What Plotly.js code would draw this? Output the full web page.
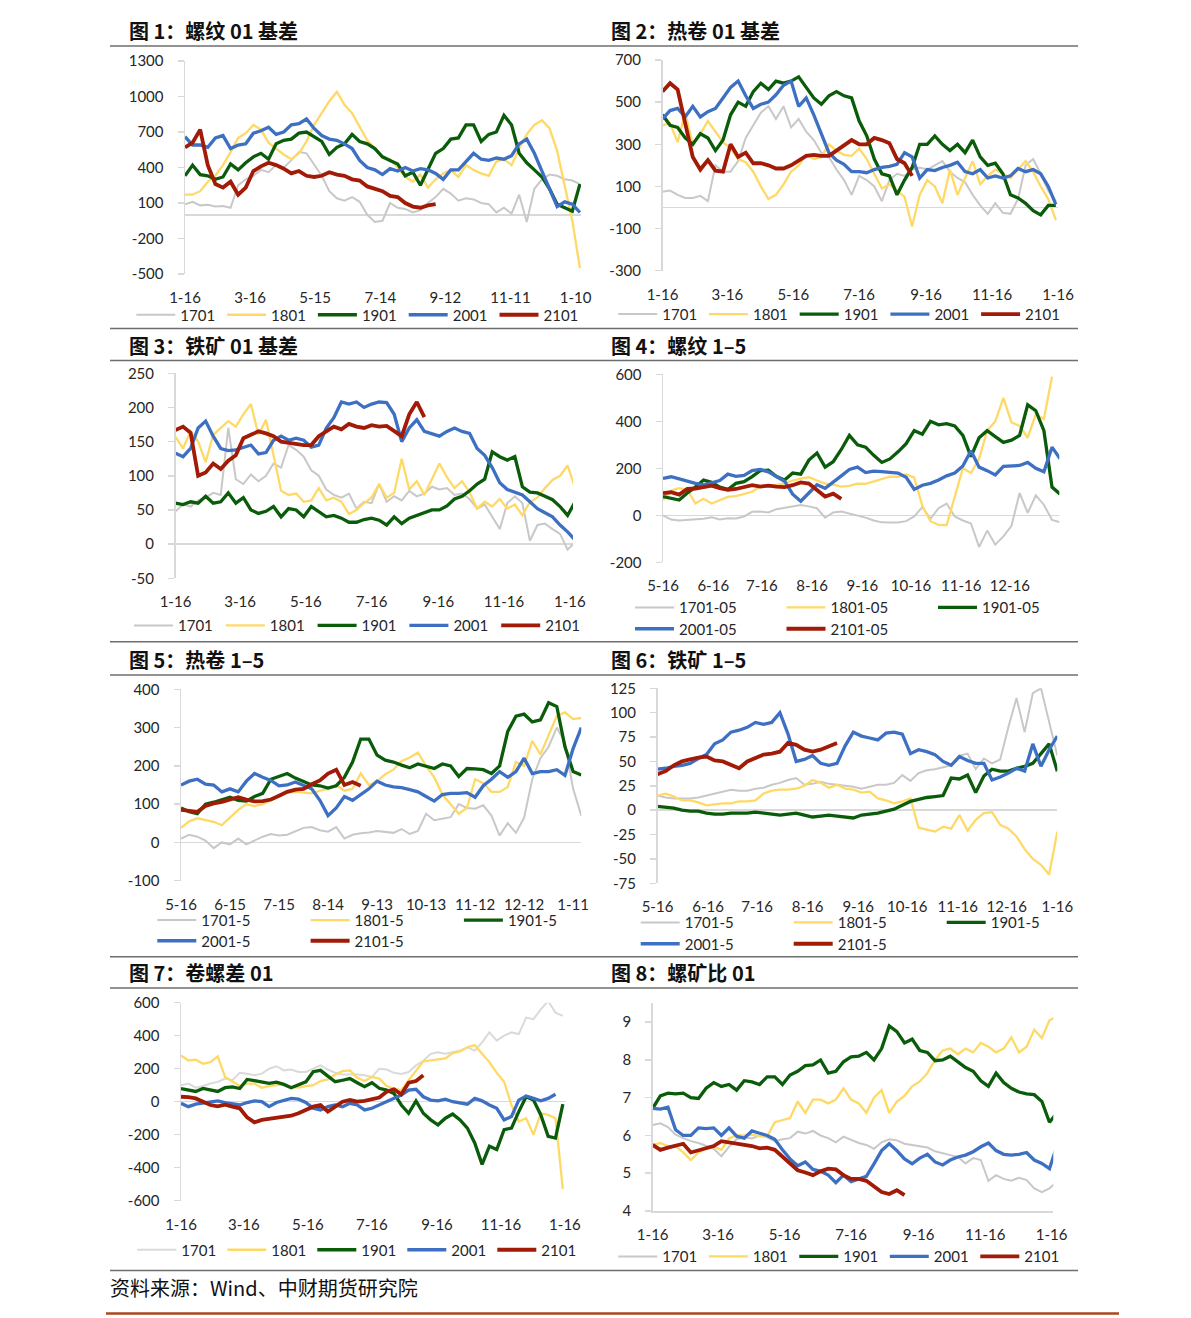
<!DOCTYPE html>
<html>
<head>
<meta charset="utf-8">
<script src="https://cdn.plot.ly/plotly-3.0.1.min.js"></script>
<style>
html,body{margin:0;padding:0;background:#fff;}
#chart{width:1191px;height:1318px;}
</style>
</head>
<body>
<div id="chart"></div>
<script>
// ---------------- DATA ----------------
const seriesNames = ['1701','1801','1901','2001','2101'];
const seriesNames05 = ['1701-05','1801-05','1901-05','2001-05','2101-05'];
const seriesNames5 = ['1701-5','1801-5','1901-5','2001-5','2101-5'];

const ticksDay60 = ['2020-01-16','2020-03-16','2020-05-15','2020-07-14','2020-09-12','2020-11-11','2021-01-10'];
const labelsDay60 = ['1-16','3-16','5-15','7-14','9-12','11-11','1-10'];
const ticksBiMonth = ['2020-01-16','2020-03-16','2020-05-16','2020-07-16','2020-09-16','2020-11-16','2021-01-16'];
const labelsBiMonth = ['1-16','3-16','5-16','7-16','9-16','11-16','1-16'];
const ticksMonth = ['2020-05-16','2020-06-16','2020-07-16','2020-08-16','2020-09-16','2020-10-16','2020-11-16','2020-12-16','2021-01-16'];
const labelsMonth = ['5-16','6-16','7-16','8-16','9-16','10-16','11-16','12-16','1-16'];
const ticksDay30 = ['2020-05-16','2020-06-15','2020-07-15','2020-08-14','2020-09-13','2020-10-13','2020-11-12','2020-12-12','2021-01-11'];
const labelsDay30 = ['5-16','6-15','7-15','8-14','9-13','10-13','11-12','12-12','1-11'];

// 图1 螺纹01基差 (weekly from 1-16)
const rebarBasis1701 = [90,110,80,85,70,75,60,250,300,330,380,360,420,400,460,530,520,430,330,200,140,120,150,110,0,-60,-50,100,60,50,20,40,100,150,220,180,120,140,130,100,90,20,60,10,170,-60,220,300,340,330,300,290,260];
const rebarBasis1801 = [170,170,200,280,330,420,530,650,690,760,720,610,560,510,470,520,620,760,860,960,1040,930,860,740,630,560,480,470,400,320,280,340,230,300,350,380,320,420,380,350,330,450,470,420,560,680,760,800,730,540,250,-50,-450];
const rebarBasis1901 = [330,420,340,330,300,320,430,380,440,490,520,470,600,630,640,690,700,660,620,510,570,600,680,620,600,560,490,460,430,330,360,250,380,520,560,640,650,760,760,620,680,700,840,760,520,440,380,320,220,90,60,30,260];
const rebarBasis2001 = [660,590,590,570,650,670,560,590,600,690,710,740,680,700,760,770,810,730,670,640,630,600,560,460,400,380,340,390,370,400,370,390,380,350,300,380,380,450,520,470,460,480,470,500,600,640,520,370,220,70,110,90,20];
const rebarBasis2101 = [570,610,720,420,260,230,280,170,230,370,410,440,420,390,350,370,330,320,330,360,340,330,300,290,240,220,200,160,150,100,70,60,80,90];

// 图2 热卷01基差 (weekly from 1-16)
const hrcBasis1701 = [75,80,60,45,45,55,30,200,170,170,220,330,390,450,480,420,480,380,420,360,320,260,240,180,130,60,150,130,100,30,130,160,150,180,190,180,200,220,170,140,120,60,10,-30,20,-25,-30,40,200,230,160,80,30];
const hrcBasis1801 = [390,400,310,450,300,350,410,360,310,280,230,215,170,100,40,60,110,170,200,250,230,240,300,270,250,245,280,230,160,90,110,80,50,-90,60,130,100,20,180,60,140,220,110,150,180,160,140,180,220,170,100,40,-60];
const hrcBasis1901 = [440,390,380,330,300,350,330,270,320,440,500,480,550,590,560,600,590,600,620,570,520,490,530,550,530,520,410,340,230,160,150,60,130,190,300,300,340,300,270,300,260,320,240,200,210,160,60,45,20,-15,-35,10,10];
const hrcBasis2001 = [420,460,470,430,480,430,455,470,520,570,600,530,470,490,500,535,580,600,480,520,440,345,260,225,205,170,170,165,180,190,195,205,260,240,140,180,175,190,200,215,170,160,180,140,150,140,150,185,170,180,160,100,15];
const hrcBasis2101 = [550,590,560,400,240,180,225,175,170,300,240,260,210,210,200,185,185,200,225,245,250,245,245,270,290,320,300,300,330,320,305,230,210,150];

// 图3 铁矿01基差 (weekly from 1-16)
const oreBasis1701 = [48,58,55,64,68,75,72,170,95,88,102,92,100,118,112,145,138,128,108,100,80,72,68,74,52,62,60,88,62,70,64,78,70,74,84,80,82,72,74,66,52,58,40,22,60,70,60,5,28,30,22,15,-8,3];
const oreBasis1801 = [157,140,165,150,120,160,170,180,172,190,205,160,182,130,78,72,74,62,64,82,64,68,62,44,50,60,68,88,68,75,125,80,92,72,95,118,98,82,92,76,52,62,55,66,52,58,42,62,68,82,94,100,115,82];
const oreBasis1901 = [60,58,62,60,70,60,62,75,60,68,50,45,48,55,40,52,50,40,55,47,40,42,38,32,32,36,38,35,28,40,30,38,42,45,50,50,56,66,70,78,88,95,135,128,123,128,84,76,75,70,65,55,42,62];
const oreBasis2001 = [133,128,140,170,180,158,140,137,138,142,145,132,134,152,158,152,155,152,142,145,170,185,208,205,208,200,205,208,207,190,150,170,182,165,162,158,165,170,165,162,140,130,112,90,80,76,72,62,52,46,40,28,18,6];
const oreBasis2101 = [167,172,163,100,105,118,110,122,130,155,160,165,162,158,150,148,147,145,145,158,165,172,168,176,172,170,174,172,173,166,158,190,208,186];

// 图4 螺纹1-5 (every 5 days from 5-16)
const rebarSpread1701 = [0,-18,-22,-20,-20,-15,-8,-18,-13,-14,-5,15,16,12,26,33,37,44,38,30,-10,12,16,8,0,-10,-22,-30,-31,-31,-25,-5,35,-15,30,50,-5,-22,-35,-135,-65,-125,-90,-45,95,10,85,45,-20,-30];
const rebarSpread1801 = [65,105,115,110,50,70,50,65,78,82,90,100,122,124,129,136,148,156,162,148,135,130,122,125,135,134,143,152,164,164,175,160,40,-25,-41,-42,80,200,180,240,360,400,500,395,380,330,430,410,590];
const rebarSpread1901 = [80,72,65,95,120,150,140,120,110,136,143,165,190,192,165,150,180,175,235,265,205,228,280,340,300,290,255,225,240,270,305,360,345,400,385,390,380,340,250,330,360,335,310,320,340,470,445,360,120,90];
const rebarSpread2001 = [157,164,155,145,136,129,138,148,175,166,170,190,195,185,165,145,90,60,95,130,115,140,168,195,205,182,188,186,182,180,162,110,128,136,150,168,180,210,275,205,190,172,208,210,212,225,200,185,290,240];
const rebarSpread2101 = [94,98,88,112,114,120,126,116,108,112,122,128,122,126,122,120,128,140,135,110,80,92,70];

// 图5 热卷1-5 (every 5 days from 5-16)
const hrcSpread1701 = [10,20,15,5,-15,0,-5,10,-5,5,15,22,18,20,28,38,40,32,28,40,10,20,24,26,30,28,25,35,22,30,75,58,62,66,100,90,88,97,70,18,50,25,65,165,220,250,300,260,140,70];
const hrcSpread1801 = [38,55,63,58,54,45,65,85,100,95,100,110,118,130,132,130,128,135,140,150,135,140,180,150,160,178,190,212,222,235,200,170,125,100,75,90,165,155,132,132,145,210,200,265,230,280,330,340,322,325];
const hrcSpread1901 = [90,80,75,100,105,112,118,110,108,120,128,165,172,180,168,158,150,148,142,148,170,210,270,270,228,215,210,202,195,205,200,193,205,200,172,193,192,190,180,200,290,330,335,315,320,365,355,250,185,176];
const hrcSpread2001 = [150,160,165,152,150,132,140,132,160,180,170,162,148,150,158,150,140,110,70,90,120,110,125,140,160,150,145,143,138,132,120,108,125,128,128,130,118,148,165,185,170,185,220,180,185,185,190,175,245,300];
const hrcSpread2101 = [85,82,80,95,102,106,112,118,112,107,108,112,122,132,138,140,152,162,180,190,150,158,148];

// 图6 铁矿1-5 (every 5 days from 5-16)
const oreSpread1701 = [15,13,12,12,12,13,15,17,19,21,20,20,22,23,26,28,31,33,26,27,29,27,26,25,24,22,24,26,26,28,36,30,38,41,42,44,46,56,58,42,53,48,52,85,115,80,120,125,90,56];
const oreSpread1801 = [15,17,14,10,10,8,5,6,7,7,9,9,10,17,20,21,21,22,25,31,28,23,26,22,21,18,19,12,10,7,9,12,-18,-20,-22,-17,-19,-5,-21,-10,-3,-2,-15,-19,-27,-40,-50,-56,-66,-22];
const oreSpread1901 = [4,3,2,0,-1,-1,-3,-4,-4,-3,-3,-3,-2,-3,-4,-5,-4,-3,-5,-7,-6,-5,-6,-7,-8,-5,-4,-3,-1,1,5,9,11,13,14,15,33,32,36,18,35,42,40,40,43,45,48,58,68,40];
const oreSpread2001 = [42,43,45,46,48,53,57,68,72,80,82,85,90,88,90,100,78,50,52,56,48,46,48,66,80,76,74,72,79,80,78,58,62,60,57,50,46,55,51,48,48,31,34,38,43,40,68,45,62,76];
const oreSpread2101 = [37,40,46,50,52,54,55,51,50,46,43,50,54,57,58,60,69,67,62,60,62,65,69];

// 图7 卷螺差01 (weekly from 1-16)
const hrcRebar1701 = [100,110,85,95,110,120,140,130,175,170,160,170,200,215,190,195,180,180,200,220,195,175,165,165,165,160,150,200,195,175,168,180,220,248,290,300,290,300,310,330,310,360,420,370,400,420,410,510,500,560,610,540,520];
const hrcRebar1801 = [280,250,255,230,240,275,150,120,95,110,110,85,95,100,105,90,85,95,100,125,135,165,185,190,145,125,150,140,95,80,70,130,190,245,250,255,262,295,305,330,343,290,240,175,121,-20,-120,-100,-200,-70,-80,-100,-530];
const hrcRebar1901 = [80,72,62,80,70,62,85,90,80,135,128,120,111,118,105,85,100,120,182,190,155,121,130,140,115,91,115,81,70,50,-20,-70,5,-70,-110,-140,-100,-75,-110,-160,-250,-380,-270,-290,-170,-160,-60,30,10,-80,-210,-220,-15];
const hrcRebar2001 = [-10,-30,-15,-10,0,5,-5,-15,-20,-5,5,0,-30,-5,10,20,15,-5,-40,-50,-30,-20,-30,-10,-20,-50,-40,-20,-5,20,40,70,75,30,10,5,15,0,-10,-15,20,5,-20,-40,-110,-90,10,35,20,5,20,45];
const hrcRebar2101 = [30,28,20,0,-20,-28,-18,-30,-40,-95,-125,-110,-105,-100,-95,-85,-70,-50,-30,-20,-60,-30,0,10,0,5,15,25,60,75,45,115,125,160];

// 图8 螺矿比01 (weekly from 1-16)
const rebarOre1701 = [6.28,6.32,6.22,6.02,5.93,5.85,5.8,5.72,5.65,5.45,5.7,5.9,5.95,5.92,6.0,5.95,5.85,5.9,5.93,6.1,6.05,6.12,6.0,5.93,5.82,5.97,5.88,5.8,5.75,5.65,5.82,5.9,5.87,5.78,5.75,5.72,5.68,5.58,5.52,5.48,5.43,5.26,5.4,5.35,4.8,4.95,4.85,4.8,4.88,4.82,4.6,4.5,4.6,4.78];
const rebarOre1801 = [5.75,5.8,5.72,5.72,5.55,5.35,5.55,5.65,5.7,5.62,5.92,6.0,6.0,6.02,5.98,5.97,6.35,6.4,6.46,6.9,6.6,6.95,6.95,6.85,6.95,7.25,6.95,6.85,6.6,7.0,7.2,6.6,6.9,7.05,7.3,7.43,7.65,8.0,8.25,8.3,8.15,8.3,8.2,8.45,8.35,8.2,8.3,8.6,8.2,8.35,8.8,8.58,9.05,9.15];
const rebarOre1901 = [6.72,7.05,7.12,7.1,7.12,7.0,6.98,7.25,7.4,7.3,7.35,7.2,7.45,7.42,7.35,7.55,7.55,7.35,7.6,7.7,7.85,7.87,8.0,7.65,7.7,7.95,8.08,8.1,8.2,8.0,8.3,8.9,8.75,8.45,8.55,8.25,8.2,7.98,8.0,8.1,7.95,7.8,7.7,7.45,7.3,7.65,7.4,7.25,7.15,7.1,7.08,6.9,6.35,6.6];
const rebarOre2001 = [6.72,6.7,6.75,6.15,6.0,6.0,6.2,6.18,6.2,6.0,6.2,5.98,5.93,6.12,6.06,6.0,5.9,5.62,5.38,5.2,5.3,5.1,5.05,4.95,4.75,4.95,4.78,4.85,4.92,5.25,5.6,5.78,5.6,5.38,5.25,5.4,5.5,5.3,5.22,5.35,5.43,5.48,5.57,5.7,5.8,5.6,5.5,5.48,5.5,5.55,5.35,5.26,5.12,5.75];
const rebarOre2101 = [5.75,5.62,5.68,5.72,5.78,5.55,5.6,5.66,5.72,5.85,5.82,5.8,5.75,5.72,5.66,5.68,5.62,5.45,5.25,5.08,5.02,4.95,5.05,5.12,5.1,4.95,4.85,4.85,4.8,4.65,4.5,4.45,4.55,4.42];

// ---------------- LAYOUT HELPERS ----------------
const W = 1191, H = 1318;
const fx = px => px / W;
const fy = py => 1 - py / H;
const COLORS = ['#C8C8C8', '#FFD966', '#0A5C0A', '#3D70C2', '#A11B07'];
const WIDTHS = [2, 2.3, 3.3, 3.3, 3.8];
const TICKFONT = {family: 'Lato, "Open Sans", sans-serif', size: 15, color: '#262626'};
const AXCOL = '#D9D9D9';

function dateSeq(start, step, n) {
  const t0 = Date.parse(start + 'T00:00:00Z');
  const out = [];
  for (let i = 0; i < n; i++) out.push(new Date(t0 + i * step * 86400000).toISOString().slice(0, 10));
  return out;
}
function yTicks(lo, hi, step) {
  const v = [];
  for (let t = lo; t <= hi + 1e-9; t += step) v.push(Math.round(t * 1000) / 1000);
  return v;
}

const panels = [
  {title:'图 1：螺纹 01 基差', names:seriesNames, data:[rebarBasis1701,rebarBasis1801,rebarBasis1901,rebarBasis2001,rebarBasis2101],
   start:'2020-01-16', step:7, px:[185,581], py:[61,274], xr:['2020-01-16','2021-01-15'], yr:[-500,1300], dtick:300,
   tv:ticksDay60, tt:labelsDay60, tx:127, ty:31, legs:[{x:136.3, y:315, n:5, w:90.8}]},
  {title:'图 2：热卷 01 基差', names:seriesNames, data:[hrcBasis1701,hrcBasis1801,hrcBasis1901,hrcBasis2001,hrcBasis2101],
   start:'2020-01-16', step:7, px:[662.5,1058], py:[60,270.7], xr:['2020-01-16','2021-01-16'], yr:[-300,700], dtick:200,
   tv:ticksBiMonth, tt:labelsBiMonth, tx:609, ty:31, legs:[{x:618.3, y:314.3, n:5, w:90.7}]},
  {title:'图 3：铁矿 01 基差', names:seriesNames, data:[oreBasis1701,oreBasis1801,oreBasis1901,oreBasis2001,oreBasis2101],
   start:'2020-01-16', step:7, px:[175.5,573], py:[373.3,578.3], xr:['2020-01-16','2021-01-19'], yr:[-50,250], dtick:50,
   tv:ticksBiMonth, tt:labelsBiMonth, tx:127, ty:345, legs:[{x:134, y:625.7, n:5, w:91.8}]},
  {title:'图 4：螺纹 1–5', names:seriesNames05, data:[rebarSpread1701,rebarSpread1801,rebarSpread1901,rebarSpread2001,rebarSpread2101],
   start:'2020-05-16', step:5, px:[663,1059.3], py:[374.3,562.3], xr:['2020-05-16','2021-01-15 12:00'], yr:[-200,600], dtick:200,
   tv:ticksMonth, tt:labelsMonth, tx:609, ty:345, legs:[{x:635, y:607.7, n:3, w:151.5},{x:635, y:629, n:2, w:151.5}]},
  {title:'图 5：热卷 1–5', names:seriesNames5, data:[hrcSpread1701,hrcSpread1801,hrcSpread1901,hrcSpread2001,hrcSpread2101],
   start:'2020-05-16', step:5, px:[181,581.3], py:[689.3,880.7], xr:['2020-05-16','2021-01-16'], yr:[-100,400], dtick:100,
   tv:ticksDay30, tt:labelsDay30, tx:127, ty:659, legs:[{x:157.3, y:920.3, n:3, w:153.3},{x:157.3, y:941, n:2, w:153.3}]},
  {title:'图 6：铁矿 1–5', names:seriesNames5, data:[oreSpread1701,oreSpread1801,oreSpread1901,oreSpread2001,oreSpread2101],
   start:'2020-05-16', step:5, px:[657.5,1057.3], py:[688.3,883.3], xr:['2020-05-16','2021-01-16'], yr:[-75,125], dtick:25,
   tv:ticksMonth, tt:labelsMonth, tx:609, ty:659, legs:[{x:640.7, y:922.7, n:3, w:153},{x:640.7, y:944, n:2, w:153}]},
  {title:'图 7：卷螺差 01', names:seriesNames, data:[hrcRebar1701,hrcRebar1801,hrcRebar1901,hrcRebar2001,hrcRebar2101],
   start:'2020-01-16', step:7, px:[181,566], py:[1002.7,1200.7], xr:['2020-01-16','2021-01-17'], yr:[-600,600], dtick:200,
   tv:ticksBiMonth, tt:labelsBiMonth, tx:127, ty:972, legs:[{x:137.3, y:1250, n:5, w:90}], gray:'#DADADA'},
  {title:'图 8：螺矿比 01', names:seriesNames, data:[rebarOre1701,rebarOre1801,rebarOre1901,rebarOre2001,rebarOre2101],
   start:'2020-01-16', step:7, px:[652.7,1053.3], py:[1003.3,1211], xr:['2020-01-16','2021-01-17 12:00'], yr:[4,9.5], dtick:1,
   tv:ticksBiMonth, tt:labelsBiMonth, tx:609, ty:972, legs:[{x:618.3, y:1256.7, n:5, w:90.5}], ratio:true}
];

const traces = [];
const layout = {
  width: W, height: H, margin: {l:0, r:0, t:0, b:0},
  paper_bgcolor: '#fff', plot_bgcolor: 'rgba(0,0,0,0)',
  showlegend: true, shapes: [], annotations: []
};

let legendCount = 0;
panels.forEach((p, i) => {
  const n = i + 1;
  const xa = 'xaxis' + (n > 1 ? n : ''), ya = 'yaxis' + (n > 1 ? n : '');
  const xr = 'x' + (n > 1 ? n : ''), yr = 'y' + (n > 1 ? n : '');
  const yv = yTicks(p.yr[0], p.yr[1], p.dtick);
  layout[xa] = {
    domain: [fx(p.px[0]), fx(p.px[1])], anchor: yr, type: 'date', range: p.xr,
    tickmode: 'array', tickvals: p.tv, ticktext: p.tt, tickfont: TICKFONT,
    showgrid: false, zeroline: false, showline: !!p.ratio, linecolor: AXCOL, linewidth: 1.5,
    ticks: '', ticklabelstandoff: p.ratio ? 9 : 13, fixedrange: true
  };
  layout[ya] = {
    domain: [fy(p.py[1]), fy(p.py[0])], anchor: xr, range: p.yr,
    tickmode: 'array', tickvals: yv, ticktext: yv.map(v => String(v)),
    tickfont: TICKFONT, showgrid: false, zeroline: !p.ratio, zerolinecolor: AXCOL, zerolinewidth: 1.5,
    showline: true, linecolor: AXCOL, linewidth: 1.5, ticks: 'outside', ticklen: 6, tickcolor: AXCOL, tickwidth: 1.5,
    ticklabelstandoff: 11, fixedrange: true
  };
  const legNames = p.legs.map(lg => {
    legendCount++;
    const name = 'legend' + (legendCount > 1 ? legendCount : '');
    layout[name] = {
      orientation: 'h', x: fx(lg.x - 5), xanchor: 'left', y: fy(lg.y), yanchor: 'middle',
      font: TICKFONT, bgcolor: 'rgba(0,0,0,0)', borderwidth: 0, itemwidth: 39,
      entrywidth: lg.w - 54, entrywidthmode: 'pixels', traceorder: 'normal', tracegroupgap: 0,
      itemclick: false, itemdoubleclick: false
    };
    return name;
  });
  p.data.forEach((vals, j) => {
    let legName = legNames[0];
    if (p.legs.length > 1 && j >= p.legs[0].n) legName = legNames[1];
    traces.push({
      type: 'scatter', mode: 'lines', name: p.names[j],
      x: dateSeq(p.start, p.step, vals.length), y: vals,
      xaxis: xr, yaxis: yr, legend: legName, hoverinfo: 'skip',
      line: {color: (j === 0 && p.gray) ? p.gray : COLORS[j], width: WIDTHS[j]}
    });
  });
  layout.annotations.push({
    xref: 'paper', yref: 'paper', x: fx(p.tx), y: fy(p.ty), xanchor: 'left', yanchor: 'middle',
    text: '<b>' + p.title + '</b>', showarrow: false,
    font: {family: '"Noto Sans CJK SC", sans-serif', size: 20, color: '#111'}
  });
});

// separator lines
const sepYs = [46, 328.5, 360.5, 641.7, 675, 956.7, 988, 1270.5];
sepYs.forEach(yv => {
  layout.shapes.push({type:'line', xref:'paper', yref:'paper', x0: fx(110), x1: fx(596), y0: fy(yv), y1: fy(yv), line:{color:'#6E6E6E', width:1.5}});
  layout.shapes.push({type:'line', xref:'paper', yref:'paper', x0: fx(596), x1: fx(1078), y0: fy(yv), y1: fy(yv), line:{color:'#6E6E6E', width:1.5}});
});
layout.shapes.push({type:'line', xref:'paper', yref:'paper', x0: fx(106), x1: fx(1119), y0: fy(1313.5), y1: fy(1313.5), line:{color:'#A9491F', width:2.5}});

layout.annotations.push({
  xref: 'paper', yref: 'paper', x: fx(108), y: fy(1287), xanchor: 'left', yanchor: 'middle',
  text: '资料来源：Wind、中财期货研究院', showarrow: false,
  font: {family: '"Noto Sans CJK SC", sans-serif', size: 20, color: '#111'}
});

Plotly.newPlot('chart', traces, layout, {staticPlot: true, displayModeBar: false});
</script>
</body>
</html>
